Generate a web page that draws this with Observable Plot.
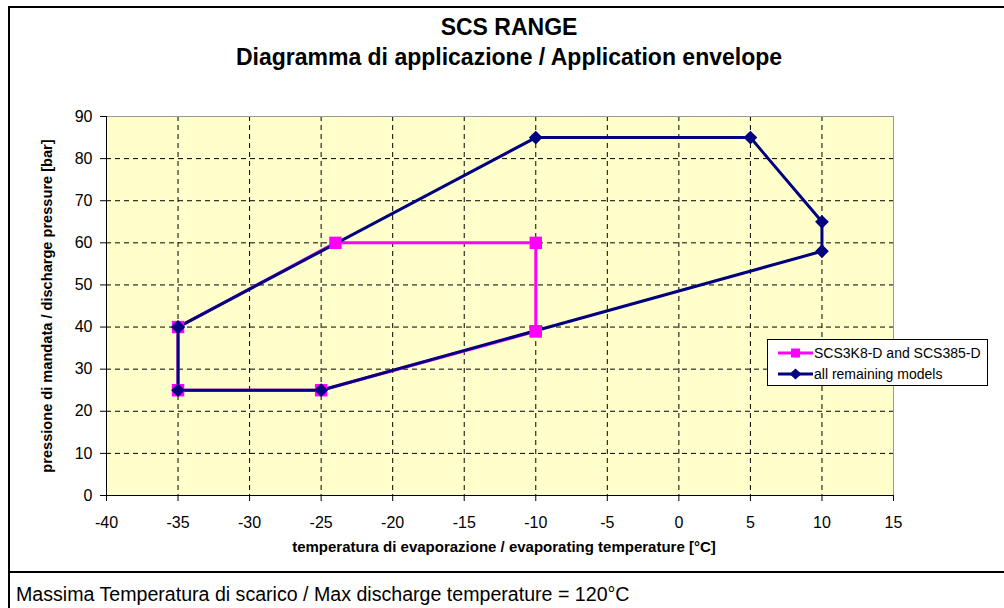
<!DOCTYPE html>
<html>
<head>
<meta charset="utf-8">
<script src="https://cdn.jsdelivr.net/npm/d3@7"></script>
<script src="https://cdn.jsdelivr.net/npm/@observablehq/plot@0.6"></script>
<style>
  html, body { margin: 0; padding: 0; background: #fff; overflow: hidden; }
  #wrap { position: relative; width: 1004px; height: 608px; overflow: hidden; font-family: "Liberation Sans", Arial, sans-serif; color: #000; }
  #outer { position: absolute; left: 8px; top: 6px; width: 1010px; height: 620px; border: 2px solid #000; box-sizing: border-box; }
  #sep { position: absolute; left: 8px; top: 571px; width: 1000px; height: 2px; background: #000; }
  .title { position: absolute; left: 4px; width: 1010px; text-align: center; font-weight: bold; font-size: 23px; white-space: nowrap; }
  #xlabel { position: absolute; left: 2px; width: 1004px; top: 538px; text-align: center; font-weight: bold; font-size: 15px; white-space: nowrap; }
  #ylabel { position: absolute; left: 47px; top: 306px; transform: translate(-50%, -50%) rotate(-90deg); font-weight: bold; font-size: 14.6px; white-space: nowrap; }
  #caption { position: absolute; left: 16px; top: 584px; font-size: 19.6px; line-height: 21px; white-space: nowrap; }
  #legend { position: absolute; left: 767px; top: 339px; width: 221px; height: 47px; border: 1px solid #000; background: #fff; box-sizing: border-box; font-size: 14px; }
  .lrow { position: absolute; left: 10px; height: 20px; display: flex; align-items: center; white-space: nowrap; }
  .lrow svg { margin-right: 1px; }
  #plotbox { position: absolute; left: 0; top: 0; }
</style>
</head>
<body>
<div id="wrap">
  <div id="outer"></div>
  <div id="sep"></div>
  <div class="title" style="top: 14px;">SCS RANGE</div>
  <div class="title" style="top: 44px;">Diagramma di applicazione / Application envelope</div>
  <div id="plotbox"></div>
  <div id="xlabel">temperatura di evaporazione / evaporating temperature [°C]</div>
  <div id="ylabel">pressione di mandata / discharge pressure [bar]</div>
  <div id="legend"></div>
  <div id="caption">Massima Temperatura di scarico / Max discharge temperature = 120°C</div>
</div>
<script>
// ---- Data ----
const seriesNames = ["SCS3K8-D and SCS385-D", "all remaining models"];
const seriesColors = ["#FF00FF", "#000080"];

const smallTemp = [-10, -25, -35, -35, -24, -10, -10];
const smallPress = [39, 25, 25, 40, 60, 60, 39];

const allTemp = [-35, -10, 5, 10, 10, -25, -35, -35];
const allPress = [40, 85, 85, 65, 58, 25, 25, 40];

const xTicks = [-40, -35, -30, -25, -20, -15, -10, -5, 0, 5, 10, 15];
const yTicks = [0, 10, 20, 30, 40, 50, 60, 70, 80, 90];

const small = smallTemp.map((t, i) => ({t, p: smallPress[i]}));
const all = allTemp.map((t, i) => ({t, p: allPress[i]}));

const fmt = d => String(d);

const chart = Plot.plot({
  width: 1004,
  height: 560,
  marginLeft: 106,
  marginRight: 111,
  marginTop: 116,
  marginBottom: 65,
  style: { fontFamily: "'Liberation Sans', Arial, sans-serif", background: "transparent", color: "#000", overflow: "visible" },
  x: { domain: [-40, 15] },
  y: { domain: [0, 90] },
  marks: [
    Plot.frame({ fill: "#FFFFCC", stroke: null }),
    Plot.gridX(xTicks, { stroke: "#000", strokeOpacity: 1, strokeDasharray: "5,4" }),
    Plot.gridY(yTicks, { stroke: "#000", strokeOpacity: 1, strokeDasharray: "5,4" }),
    Plot.frame({ stroke: "#999" }),
    Plot.ruleX([-40], { stroke: "#000" }),
    Plot.ruleY([0], { stroke: "#000" }),
    Plot.axisX({ ticks: xTicks, tickFormat: fmt, tickSize: 6, tickPadding: 15, fontSize: 16, label: null }),
    Plot.axisY({ ticks: yTicks, tickFormat: fmt, tickSize: 6, tickPadding: 8, fontSize: 16, label: null }),
    Plot.line(small, { x: "t", y: "p", stroke: seriesColors[0], strokeWidth: 3 }),
    Plot.line(all, { x: "t", y: "p", stroke: seriesColors[1], strokeWidth: 3 }),
    Plot.dot(small, { x: "t", y: "p", symbol: "square", r: 7, fill: seriesColors[0], stroke: null }),
    Plot.dot(all, { x: "t", y: "p", symbol: "diamond2", r: 6.2, fill: seriesColors[1], stroke: null })
  ]
});
document.getElementById("plotbox").appendChild(chart);

// ---- Legend ----
const legend = document.getElementById("legend");
const syms = ["square", "diamond"];
seriesNames.forEach((name, i) => {
  const row = document.createElement("div");
  row.className = "lrow";
  row.style.top = (i === 0 ? 3 : 24) + "px";
  const mk = syms[i] === "square"
    ? `<rect x="13" y="2.5" width="9" height="9" fill="${seriesColors[i]}"/>`
    : `<path d="M17.5,1.5 L23.5,7 L17.5,12.5 L11.5,7 Z" fill="${seriesColors[i]}"/>`;
  row.innerHTML = `<svg width="35" height="14"><line x1="0" x2="35" y1="7" y2="7" stroke="${seriesColors[i]}" stroke-width="3"/>${mk}</svg><span>${name}</span>`;
  legend.appendChild(row);
});
</script>
</body>
</html>
